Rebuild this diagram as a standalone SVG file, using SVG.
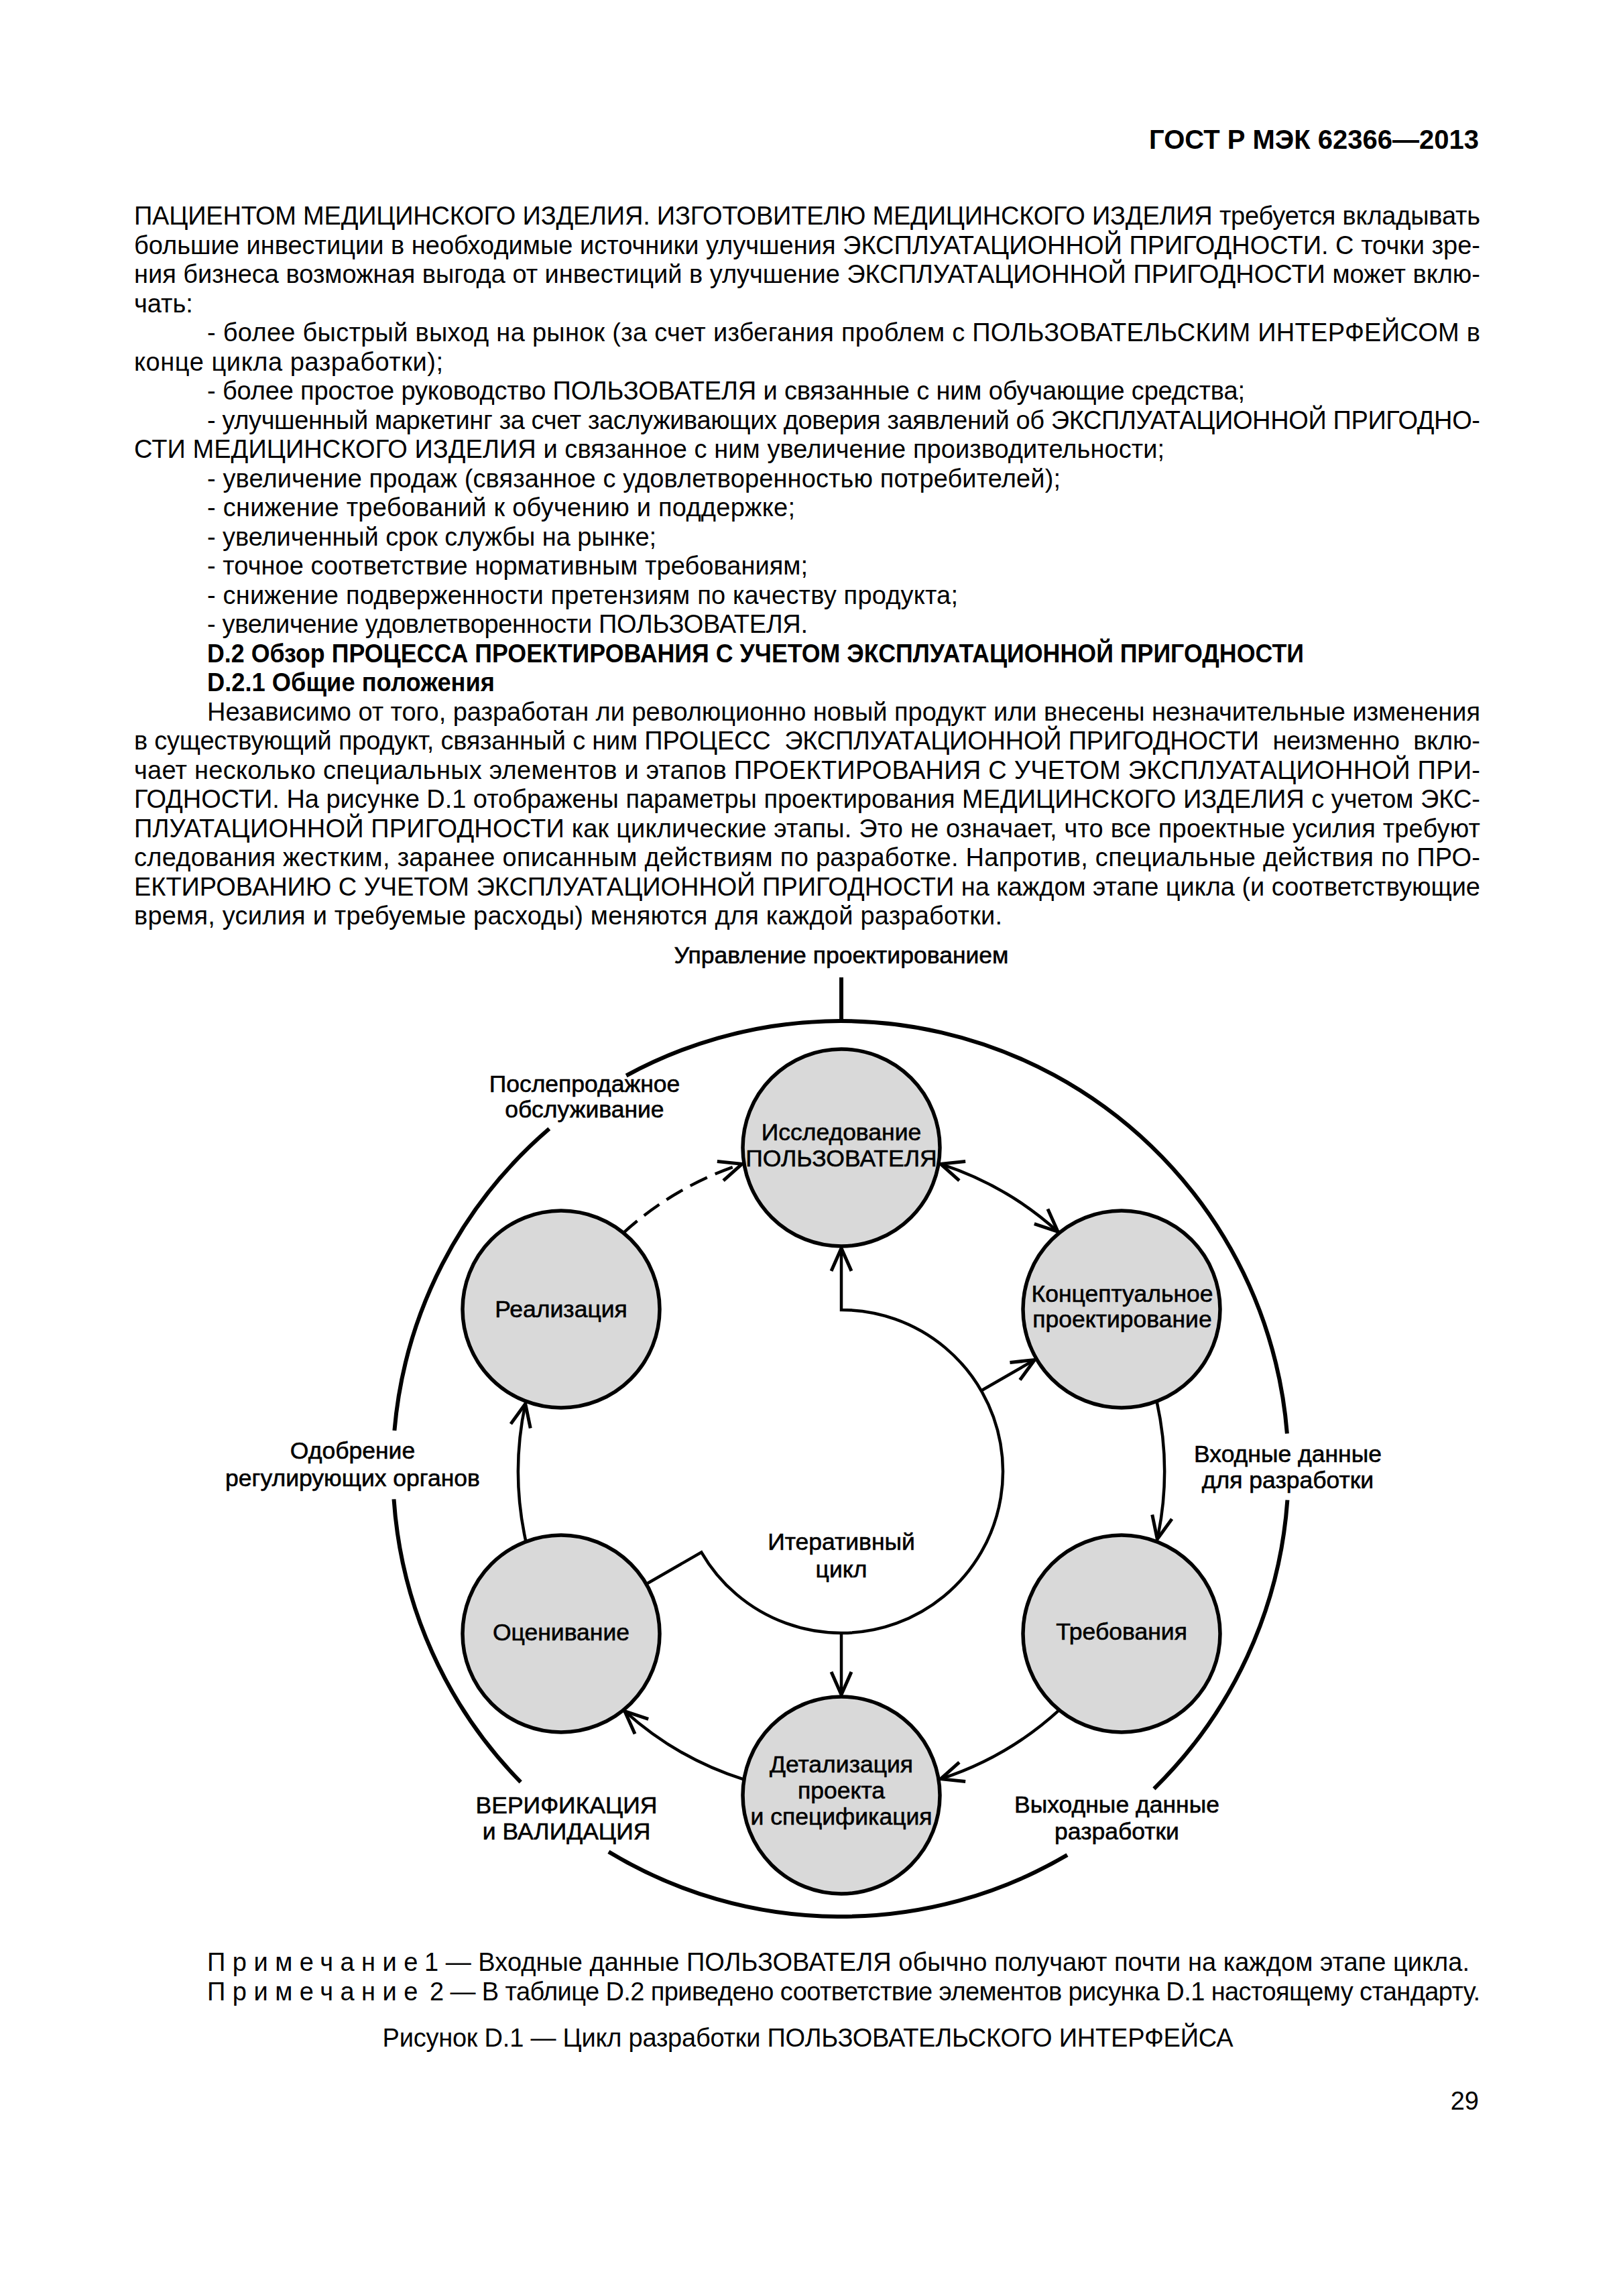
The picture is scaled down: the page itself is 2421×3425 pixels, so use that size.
<svg xmlns="http://www.w3.org/2000/svg" width="2421" height="3425" viewBox="0 0 2421 3425">
<style>
.t{font-family:"Liberation Sans",Arial,sans-serif;font-size:38px;fill:#000}
.b{font-weight:bold}
.h{font-family:"Liberation Sans",Arial,sans-serif;font-size:40px;font-weight:bold;fill:#000}
.d{font-family:"Liberation Sans",Arial,sans-serif;font-size:35.5px;fill:#000;stroke:#000;stroke-width:0.6;text-anchor:middle}
.node{fill:#d9d9d9;stroke:#000;stroke-width:5.5}
.con{fill:none;stroke:#000;stroke-width:4.5}
.outer{fill:none;stroke:#000;stroke-width:6}
</style>
<defs>
<marker id="ah" viewBox="-45 -25 50 50" refX="0" refY="0" markerWidth="50" markerHeight="50" markerUnits="userSpaceOnUse" orient="auto-start-reverse">
<path d="M-34,-15 L0,0 L-34,15" fill="none" stroke="#000" stroke-width="5"/>
</marker>
</defs>
<rect width="2421" height="3425" fill="#fff"/>

<g id="page-text">
<text class="h" x="2206" y="222" text-anchor="end">ГОСТ Р МЭК 62366—2013</text>
<text class="t" x="200" y="335" textLength="2008" lengthAdjust="spacing">ПАЦИЕНТОМ МЕДИЦИНСКОГО ИЗДЕЛИЯ. ИЗГОТОВИТЕЛЮ МЕДИЦИНСКОГО ИЗДЕЛИЯ требуется вкладывать</text>
<text class="t" x="200" y="378.5" textLength="2008" lengthAdjust="spacing">большие инвестиции в необходимые источники улучшения ЭКСПЛУАТАЦИОННОЙ ПРИГОДНОСТИ. С точки зре-</text>
<text class="t" x="200" y="422" textLength="2008" lengthAdjust="spacing">ния бизнеса возможная выгода от инвестиций в улучшение ЭКСПЛУАТАЦИОННОЙ ПРИГОДНОСТИ может вклю-</text>
<text class="t" x="200" y="465.5">чать:</text>
<text class="t" x="309" y="509" textLength="1899" lengthAdjust="spacing">- более быстрый выход на рынок (за счет избегания проблем с ПОЛЬЗОВАТЕЛЬСКИМ ИНТЕРФЕЙСОМ в</text>
<text class="t" x="200" y="552.5" textLength="461" lengthAdjust="spacing">конце цикла разработки);</text>
<text class="t" x="309" y="596" textLength="1548" lengthAdjust="spacing">- более простое руководство ПОЛЬЗОВАТЕЛЯ и связанные с ним обучающие средства;</text>
<text class="t" x="309" y="639.5" textLength="1899" lengthAdjust="spacing">- улучшенный маркетинг за счет заслуживающих доверия заявлений об ЭКСПЛУАТАЦИОННОЙ ПРИГОДНО-</text>
<text class="t" x="200" y="683" textLength="1537" lengthAdjust="spacing">СТИ МЕДИЦИНСКОГО ИЗДЕЛИЯ и связанное с ним увеличение производительности;</text>
<text class="t" x="309" y="726.5" textLength="1273" lengthAdjust="spacing">- увеличение продаж (связанное с удовлетворенностью потребителей);</text>
<text class="t" x="309" y="770" textLength="877" lengthAdjust="spacing">- снижение требований к обучению и поддержке;</text>
<text class="t" x="309" y="813.5" textLength="670" lengthAdjust="spacing">- увеличенный срок службы на рынке;</text>
<text class="t" x="309" y="857" textLength="896" lengthAdjust="spacing">- точное соответствие нормативным требованиям;</text>
<text class="t" x="309" y="900.5" textLength="1120" lengthAdjust="spacing">- снижение подверженности претензиям по качеству продукта;</text>
<text class="t" x="309" y="944" textLength="896" lengthAdjust="spacing">- увеличение удовлетворенности ПОЛЬЗОВАТЕЛЯ.</text>
<text class="t b" x="309" y="987.5" textLength="1636" lengthAdjust="spacingAndGlyphs">D.2 Обзор ПРОЦЕССА ПРОЕКТИРОВАНИЯ С УЧЕТОМ ЭКСПЛУАТАЦИОННОЙ ПРИГОДНОСТИ</text>
<text class="t b" x="309" y="1031" textLength="429" lengthAdjust="spacingAndGlyphs">D.2.1 Общие положения</text>
<text class="t" x="309" y="1074.5" textLength="1899" lengthAdjust="spacing">Независимо от того, разработан ли революционно новый продукт или внесены незначительные изменения</text>
<text class="t" x="200" y="1118" textLength="2008" lengthAdjust="spacing" xml:space="preserve">в существующий продукт, связанный с ним ПРОЦЕСС  ЭКСПЛУАТАЦИОННОЙ ПРИГОДНОСТИ  неизменно  вклю-</text>
<text class="t" x="200" y="1161.5" textLength="2008" lengthAdjust="spacing">чает несколько специальных элементов и этапов ПРОЕКТИРОВАНИЯ С УЧЕТОМ ЭКСПЛУАТАЦИОННОЙ ПРИ-</text>
<text class="t" x="200" y="1205" textLength="2008" lengthAdjust="spacing">ГОДНОСТИ. На рисунке D.1 отображены параметры проектирования МЕДИЦИНСКОГО ИЗДЕЛИЯ с учетом ЭКС-</text>
<text class="t" x="200" y="1248.5" textLength="2008" lengthAdjust="spacing">ПЛУАТАЦИОННОЙ ПРИГОДНОСТИ как циклические этапы. Это не означает, что все проектные усилия требуют</text>
<text class="t" x="200" y="1292" textLength="2008" lengthAdjust="spacing">следования жестким, заранее описанным действиям по разработке. Напротив, специальные действия по ПРО-</text>
<text class="t" x="200" y="1335.5" textLength="2008" lengthAdjust="spacing">ЕКТИРОВАНИЮ С УЧЕТОМ ЭКСПЛУАТАЦИОННОЙ ПРИГОДНОСТИ на каждом этапе цикла (и соответствующие</text>
<text class="t" x="200" y="1379" textLength="1295" lengthAdjust="spacing">время, усилия и требуемые расходы) меняются для каждой разработки.</text>

<text class="t" x="309" y="2940"><tspan letter-spacing="10.5">Примечание</tspan><tspan x="633" textLength="1559" lengthAdjust="spacing">1 — Входные данные ПОЛЬЗОВАТЕЛЯ обычно получают почти на каждом этапе цикла.</tspan></text>
<text class="t" x="309" y="2984"><tspan letter-spacing="10.5">Примечание</tspan><tspan x="641" textLength="1567" lengthAdjust="spacing">2 — В таблице D.2 приведено соответствие элементов рисунка D.1 настоящему стандарту.</tspan></text>
<text class="t" x="1205" y="3053" text-anchor="middle" textLength="1269" lengthAdjust="spacing">Рисунок D.1 — Цикл разработки ПОЛЬЗОВАТЕЛЬСКОГО ИНТЕРФЕЙСА</text>
<text class="t" x="2206" y="3147" text-anchor="end">29</text>
</g>

<g id="frame">
<path class="outer" d="M934.2,1604.5 A668,668 0 0 1 1919.9,2138.6 M1920.4,2237.6 A668,668 0 0 1 1721.4,2668.3 M1592.0,2767.2 A668,668 0 0 1 907.9,2762.4 M776.7,2658.4 A668,668 0 0 1 587.5,2236.4 M588.4,2133.9 A668,668 0 0 1 819.3,1683.8"/>
<line class="outer" x1="1255" y1="1458" x2="1255" y2="1524"/>
<text class="d" x="1255" y="1437">Управление проектированием</text>
<text class="d" x="872" y="1629">Послепродажное</text>
<text class="d" x="872" y="1667">обслуживание</text>
<text class="d" x="526" y="2176">Одобрение</text>
<text class="d" x="526" y="2217">регулирующих органов</text>
<text class="d" x="1921" y="2181">Входные данные</text>
<text class="d" x="1921" y="2220">для разработки</text>
<text class="d" x="845" y="2705">ВЕРИФИКАЦИЯ</text>
<text class="d" x="845" y="2744">и ВАЛИДАЦИЯ</text>
<text class="d" x="1666" y="2704">Выходные данные</text>
<text class="d" x="1666" y="2744">разработки</text>
</g>

<g id="connectors">
<path class="con" d="M1403.2,1736.3 A482,482 0 0 1 1578.1,1837.4" marker-start="url(#ah)" marker-end="url(#ah)"/>
<path class="con" d="M1725.6,2090.7 A482,482 0 0 1 1726.3,2296.0" marker-end="url(#ah)"/>
<path class="con" d="M1580.6,2550.4 A482,482 0 0 1 1403.2,2653.7" marker-end="url(#ah)"/>
<path class="con" d="M1110.1,2654.7 A482,482 0 0 1 931.9,2552.6" marker-end="url(#ah)"/>
<path class="con" d="M784.4,2299.3 A482,482 0 0 1 783.7,2094.0" marker-end="url(#ah)"/>
<path class="con" d="M929.4,1839.6 A482,482 0 0 1 1106.8,1736.3" stroke-dasharray="28 13" marker-end="url(#ah)"/>
<path class="con" d="M964,2363 L1046.3,2315.5 A241,241 0 1 0 1255,1954 L1255,1862" marker-end="url(#ah)"/>
<path class="con" d="M1255,2436 L1255,2528" marker-end="url(#ah)"/>
<path class="con" d="M1463.7,2074.5 L1543.4,2028.5" marker-end="url(#ah)"/>
<text class="d" x="1255" y="2312">Итеративный</text>
<text class="d" x="1255" y="2353">цикл</text>
</g>

<g id="node-research">
<circle class="node" cx="1255" cy="1712" r="147"/>
<text class="d" x="1255" y="1701">Исследование</text>
<text class="d" x="1255" y="1740">ПОЛЬЗОВАТЕЛЯ</text>
</g>
<g id="node-concept">
<circle class="node" cx="1673" cy="1953" r="147"/>
<text class="d" x="1674" y="1942">Концептуальное</text>
<text class="d" x="1674" y="1980">проектирование</text>
</g>
<g id="node-requirements">
<circle class="node" cx="1673" cy="2437" r="147"/>
<text class="d" x="1673" y="2446">Требования</text>
</g>
<g id="node-detail">
<circle class="node" cx="1255" cy="2678" r="147"/>
<text class="d" x="1255" y="2644">Детализация</text>
<text class="d" x="1255" y="2683">проекта</text>
<text class="d" x="1255" y="2722">и спецификация</text>
</g>
<g id="node-evaluation">
<circle class="node" cx="837" cy="2437" r="147"/>
<text class="d" x="837" y="2447">Оценивание</text>
</g>
<g id="node-implementation">
<circle class="node" cx="837" cy="1953" r="147"/>
<text class="d" x="837" y="1965">Реализация</text>
</g>
</svg>
